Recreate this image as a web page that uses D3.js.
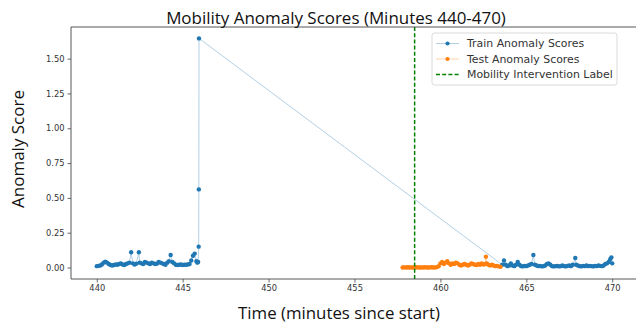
<!DOCTYPE html>
<html><head><meta charset="utf-8">
<script src="https://cdn.jsdelivr.net/npm/d3@7"></script>
<style>html,body{margin:0;padding:0;background:#fff;}svg{display:block;}</style>
</head><body>
<svg id="chart" width="636" height="328"></svg>
<script>
// ---- data ----
const trainTimes = [440.0,440.1,440.2,440.3,440.4,440.5,440.6,440.7,440.8,440.9,441.0,441.1,441.2,441.3,441.4,441.5,441.6,441.7,441.8,441.9,442.0,442.1,442.2,442.3,442.45,442.5,442.6,442.7,442.8,442.9,443.0,443.1,443.2,443.3,443.4,443.5,443.6,443.7,443.8,443.9,444.0,444.1,444.2,444.3,444.4,444.5,444.6,444.7,444.8,444.9,445.0,445.1,445.2,445.3,445.4,445.5,445.6,445.7,445.8,445.85,445.9,445.93,445.94,445.95,
  463.6,463.7,463.8,463.9,464.0,464.1,464.2,464.3,464.4,464.5,464.6,464.7,464.8,464.9,465.0,465.1,465.2,465.3,465.41,465.5,465.6,465.7,465.8,465.9,466.0,466.1,466.2,466.3,466.4,466.5,466.6,466.7,466.8,466.9,467.0,467.1,467.2,467.3,467.4,467.5,467.6,467.7,467.85,467.9,468.0,468.1,468.2,468.3,468.4,468.5,468.6,468.7,468.8,468.9,469.0,469.1,469.2,469.3,469.4,469.5,469.6,469.7,469.8,469.88,469.95,470.0];
const trainScores = [0.010,0.012,0.015,0.022,0.035,0.042,0.035,0.025,0.018,0.015,0.018,0.022,0.020,0.025,0.030,0.022,0.018,0.025,0.030,0.035,0.110,0.030,0.022,0.028,0.110,0.035,0.030,0.025,0.040,0.035,0.030,0.025,0.035,0.030,0.025,0.028,0.040,0.035,0.030,0.025,0.020,0.035,0.045,0.090,0.040,0.030,0.020,0.018,0.020,0.022,0.018,0.020,0.020,0.022,0.025,0.050,0.085,0.100,0.045,0.035,0.040,0.150,0.561,1.645,
  0.020,0.050,0.020,0.010,0.015,0.030,0.015,0.010,0.020,0.040,0.020,0.010,0.008,0.012,0.010,0.015,0.020,0.025,0.090,0.020,0.015,0.010,0.012,0.008,0.010,0.015,0.025,0.030,0.020,0.010,0.008,0.010,0.012,0.008,0.010,0.015,0.010,0.008,0.012,0.015,0.010,0.020,0.068,0.020,0.015,0.010,0.008,0.012,0.010,0.015,0.010,0.012,0.010,0.008,0.012,0.010,0.015,0.012,0.010,0.015,0.025,0.030,0.040,0.060,0.073,0.030];
const testTimes = [457.8,457.9,458.0,458.1,458.2,458.3,458.4,458.5,458.6,458.7,458.8,458.9,459.0,459.1,459.2,459.3,459.4,459.5,459.6,459.7,459.8,459.9,460.0,460.1,460.2,460.3,460.4,460.5,460.6,460.7,460.8,460.9,461.0,461.1,461.2,461.3,461.4,461.5,461.6,461.7,461.8,461.9,462.0,462.1,462.2,462.3,462.4,462.5,462.6,462.65,462.7,462.8,462.9,463.0,463.1,463.2,463.3,463.4,463.5];
const testScores = [0.000,0.001,0.000,0.002,0.000,0.001,0.000,0.000,0.002,0.001,0.000,0.001,0.000,0.002,0.001,0.000,0.001,0.002,0.000,0.001,0.003,0.010,0.030,0.040,0.025,0.035,0.045,0.030,0.020,0.030,0.025,0.035,0.030,0.020,0.015,0.020,0.025,0.020,0.015,0.020,0.030,0.025,0.020,0.018,0.025,0.020,0.030,0.022,0.025,0.078,0.030,0.020,0.015,0.020,0.015,0.010,0.012,0.008,0.005];
const interventionTime = 458.5;
const xTicks = [440,445,450,455,460,465,470];
const yTicks = [0,0.25,0.5,0.75,1.0,1.25,1.5];
const titleText = "Mobility Anomaly Scores (Minutes 440-470)";
const xLabel = "Time (minutes since start)";
const yLabel = "Anomaly Score";
const legendLabels = ["Train Anomaly Scores","Test Anomaly Scores","Mobility Intervention Label"];

// ---- layout ----
const svg = d3.select("#chart");
const L = 71, T = 27, B = 279, R = 638;
const x = d3.scaleLinear().domain([438.5, 471.5]).range([L, R]);
const y = d3.scaleLinear().domain([-0.0823, 1.727]).range([B, T]);
const blue = "#1f77b4", orange = "#ff7f0e", green = "#008000";

svg.append("defs").append("clipPath").attr("id","clip")
  .append("rect").attr("x",L).attr("y",T).attr("width",R-L).attr("height",B-T);

const plot = svg.append("g").attr("clip-path","url(#clip)");
const train = trainTimes.map((t,i)=>[t,trainScores[i]]);
const test = testTimes.map((t,i)=>[t,testScores[i]]);
const line = d3.line().x(d=>x(d[0])).y(d=>y(d[1]));

plot.append("path").attr("d",line(train)).attr("fill","none").attr("stroke",blue).attr("stroke-opacity",0.35).attr("stroke-width",1);
plot.selectAll(".tr").data(train).join("circle").attr("cx",d=>x(d[0])).attr("cy",d=>y(d[1])).attr("r",2.2).attr("fill",blue);
plot.append("path").attr("d",line(test)).attr("fill","none").attr("stroke",orange).attr("stroke-opacity",0.35).attr("stroke-width",1);
plot.selectAll(".te").data(test).join("circle").attr("cx",d=>x(d[0])).attr("cy",d=>y(d[1])).attr("r",2.2).attr("fill",orange);
plot.append("line").attr("x1",x(interventionTime)).attr("x2",x(interventionTime)).attr("y1",T).attr("y2",B)
  .attr("stroke",green).attr("stroke-width",1.5).attr("stroke-dasharray","4,2.2");

// axes
const axisColor = "#444";
const xAxis = svg.append("g").attr("transform",`translate(0,${B})`)
  .call(d3.axisBottom(x).tickValues(xTicks).tickFormat(d3.format("d")).tickSize(3.5).tickPadding(3));
const yAxis = svg.append("g").attr("transform",`translate(${L},0)`)
  .call(d3.axisLeft(y).tickValues(yTicks).tickFormat(d3.format(".2f")).tickSize(3.5).tickPadding(3));
[xAxis,yAxis].forEach(a=>{
  a.select(".domain").remove();
  a.selectAll("line").attr("stroke",axisColor).attr("stroke-width",0.8);
  a.selectAll("text").attr("fill","#333").style("font-family","DejaVu Sans").style("font-size","8.3px");
});
// spines
svg.append("path").attr("d",`M${L},${B}V${T}H${R}`).attr("fill","none").attr("stroke",axisColor).attr("stroke-width",0.9);
svg.append("line").attr("x1",L).attr("x2",R).attr("y1",B).attr("y2",B).attr("stroke",axisColor).attr("stroke-width",0.9);

// text fit helper
function fit(sel, w){ const cur = sel.node().getComputedTextLength(); const fs = parseFloat(sel.style("font-size")); const n = fs*w/cur; sel.style("font-size",n+"px"); return n; }
const tt = svg.append("text").attr("x",336).attr("y",23.5).attr("text-anchor","middle")
  .style("font-family","'Open Sans'").style("font-size","17px").attr("fill","#111").text(titleText);
fit(tt,340);
const xl = svg.append("text").attr("x",339).attr("y",319).attr("text-anchor","middle")
  .style("font-family","'Open Sans'").style("font-size","16px").attr("fill","#111").text(xLabel);
fit(xl,202);
const yl = svg.append("text").attr("transform","translate(24,149) rotate(-90)").attr("text-anchor","middle")
  .style("font-family","'Open Sans'").style("font-size","16px").attr("fill","#111").text(yLabel);
fit(yl,118);

// legend
const lg = svg.append("g");
lg.append("rect").attr("x",432).attr("y",33).attr("width",185).attr("height",52).attr("rx",2.5)
  .attr("fill","#fff").attr("fill-opacity",0.8).attr("stroke","#d0d0d0").attr("stroke-width",0.8);
const rows = [43.5,59,74.5];
const colors = [blue,orange,green];
const legTexts = legendLabels.map((lab,i)=>{
  const yy = rows[i];
  if(i<2){
    lg.append("line").attr("x1",436).attr("x2",459).attr("y1",yy).attr("y2",yy).attr("stroke",colors[i]).attr("stroke-opacity",0.35).attr("stroke-width",1);
    lg.append("circle").attr("cx",447.5).attr("cy",yy).attr("r",2.1).attr("fill",colors[i]);
  } else {
    lg.append("line").attr("x1",436).attr("x2",459).attr("y1",yy).attr("y2",yy).attr("stroke",green).attr("stroke-width",1.5).attr("stroke-dasharray","4,2.2");
  }
  return lg.append("text").attr("x",467).attr("y",yy+3.5).style("font-family","DejaVu Sans").style("font-size","9.5px").attr("fill","#333").text(lab);
});
const legSize = fit(legTexts[2],146);
legTexts.forEach(t=>t.style("font-size",legSize+"px"));
</script>
</body></html>
